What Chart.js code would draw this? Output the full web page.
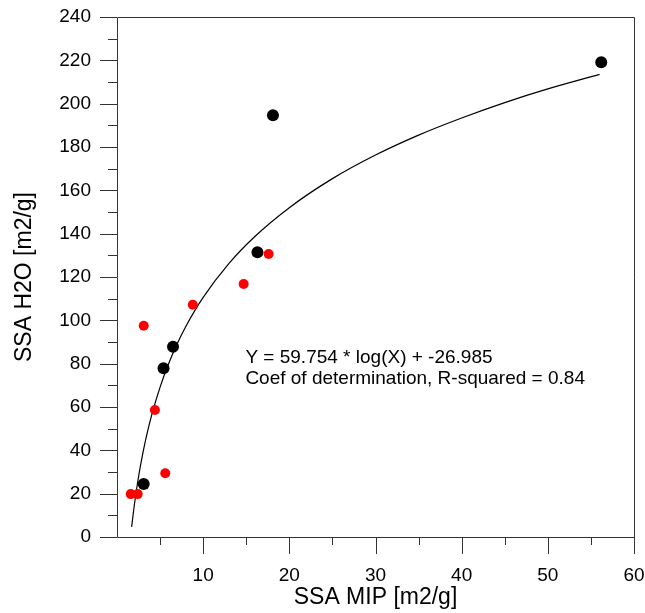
<!DOCTYPE html>
<html>
<head>
<meta charset="utf-8">
<script src="https://cdn.jsdelivr.net/npm/chart.js@4.4.1/dist/chart.umd.min.js"></script>
<style>
  html, body { margin: 0; padding: 0; background: #fff; }
  #wrap { width: 645px; height: 613px; position: relative; }
</style>
</head>
<body>
<div id="wrap"><canvas id="myChart"></canvas></div>
<script>
// black samples
const blackX = [56.2, 18.1, 16.3, 6.5, 5.4, 3.1];
const blackY = [219.1, 194.6, 131.4, 87.8, 77.9, 24.5];

// red samples
const redX = [1.6, 2.4, 5.6, 4.4, 3.1, 8.8, 14.7, 17.6];
const redY = [19.8, 19.8, 29.4, 58.6, 97.5, 107.2, 116.8, 130.6];

// fitted curve
const fitX = [1.7, 2, 2.2, 2.5, 3, 3.5, 4, 5, 6, 7, 8, 10, 13, 16, 20, 25, 30, 35, 40, 45, 50, 56];
const fitY = [4.7, 14.4, 20.1, 27.8, 38.7, 47.9, 55.9, 69.2, 80.1, 89.3, 97.3, 110.6, 126.3, 138.7, 152.0, 165.4, 176.3, 185.5, 193.4, 200.5, 206.8, 213.5];

const xTitle = "SSA MIP [m2/g]";
const yTitle = "SSA H2O [m2/g]";
const noteLines = [
  "Y = 59.754 * log(X) + -26.985",
  "Coef of determination, R-squared = 0.84",
];

const FONT = "Arial, 'Liberation Sans', sans-serif";

function pts(xs, ys) {
  return xs.map((x, i) => ({ x: x, y: ys[i] }));
}

// frame, outside ticks and the fit note
const framePlugin = {
  id: "frame",
  afterDraw(chart) {
    const ctx = chart.ctx;
    const a = chart.chartArea;
    const xs = chart.scales.x;
    const ys = chart.scales.y;
    ctx.save();
    ctx.strokeStyle = "#333";
    ctx.lineWidth = 1;
    ctx.beginPath();
    ctx.rect(Math.round(a.left) + 0.5, Math.round(a.top) + 0.5,
      Math.round(a.right - a.left), Math.round(a.bottom - a.top));
    ctx.stroke();

    ctx.beginPath();
    for (let v = 0; v <= 240; v += 10) {
      const py = Math.round(ys.getPixelForValue(v)) + 0.5;
      const len = v % 20 === 0 ? 17 : 9;
      ctx.moveTo(a.left - len, py);
      ctx.lineTo(a.left, py);
    }
    for (let v = 5; v <= 60; v += 5) {
      const px = Math.round(xs.getPixelForValue(v)) + 0.5;
      const len = v % 10 === 0 ? 17 : 8;
      ctx.moveTo(px, a.bottom);
      ctx.lineTo(px, a.bottom + len);
    }
    ctx.stroke();

    ctx.fillStyle = "#000";
    ctx.font = "19px " + FONT;
    ctx.textAlign = "left";
    ctx.textBaseline = "alphabetic";
    const tx = xs.getPixelForValue(14.9);
    const ty = ys.getPixelForValue(80.3);
    noteLines.forEach((s, i) => ctx.fillText(s, tx, ty + i * 21));
    ctx.restore();
  },
};

new Chart(document.getElementById("myChart"), {
  type: "scatter",
  data: {
    datasets: [
      {
        label: "black",
        data: pts(blackX, blackY),
        backgroundColor: "#000",
        borderColor: "#000",
        borderWidth: 0,
        pointRadius: 6,
      },
      {
        label: "red",
        data: pts(redX, redY),
        backgroundColor: "#f00",
        borderColor: "#f00",
        borderWidth: 0,
        pointRadius: 5,
      },
      {
        label: "fit",
        data: pts(fitX, fitY),
        showLine: true,
        borderColor: "#000",
        borderWidth: 1.2,
        pointRadius: 0,
        cubicInterpolationMode: "monotone",
      },
    ],
  },
  options: {
    responsive: true,
    maintainAspectRatio: false,
    animation: false,
    devicePixelRatio: 1,
    layout: { padding: { top: 17, right: 11, left: 0, bottom: 0 } },
    plugins: {
      legend: { display: false },
      tooltip: { enabled: false },
    },
    scales: {
      x: {
        type: "linear",
        min: 0,
        max: 60,
        afterFit(scale) {
          scale.height = 76;
          scale.paddingLeft = 0;
          scale.paddingRight = 0;
        },
        grid: { display: false, drawTicks: false },
        border: { display: false },
        ticks: {
          stepSize: 10,
          padding: 27,
          color: "#000",
          font: { family: FONT, size: 19 },
          maxRotation: 0,
          callback: (v) => (v === 0 ? "" : v),
        },
        title: {
          display: true,
          text: xTitle,
          color: "#000",
          font: { family: FONT, size: 23 },
          padding: { top: 0, bottom: 2 },
        },
      },
      y: {
        type: "linear",
        min: 0,
        max: 240,
        afterFit(scale) {
          scale.width = 117;
          scale.paddingTop = 0;
          scale.paddingBottom = 0;
        },
        grid: { display: false, drawTicks: false },
        border: { display: false },
        ticks: {
          stepSize: 20,
          padding: 26,
          color: "#000",
          font: { family: FONT, size: 19 },
        },
        title: {
          display: true,
          text: yTitle,
          color: "#000",
          font: { family: FONT, size: 23 },
          padding: { top: 11, bottom: 0 },
        },
      },
    },
  },
  plugins: [framePlugin],
});
</script>
</body>
</html>
